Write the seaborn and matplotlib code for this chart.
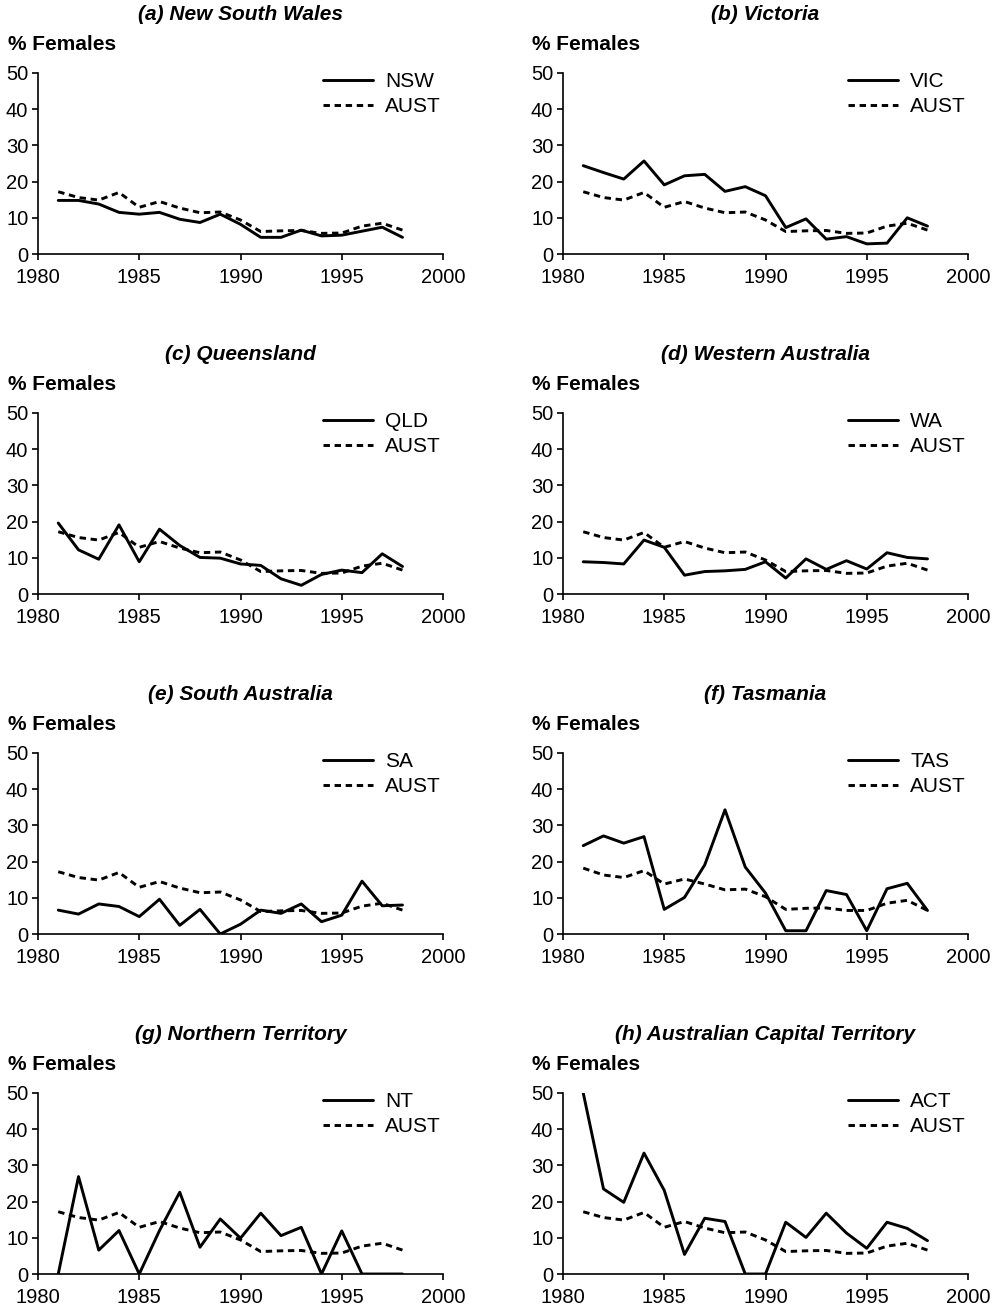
import numpy as np
import pandas as pd
import matplotlib
matplotlib.use("Agg")
import matplotlib.pyplot as plt
import seaborn as sns

years = list(range(1981, 1999))

aust = [17.2, 15.6, 14.9, 17.0, 12.9, 14.5, 12.7, 11.4, 11.6, 9.4, 6.2, 6.4, 6.5, 5.7, 5.8, 7.7, 8.5, 6.6]
aust_tas = [18.2, 16.3, 15.6, 17.5, 13.8, 15.2, 13.8, 12.2, 12.4, 10.3, 6.8, 7.1, 7.2, 6.5, 6.5, 8.5, 9.3, 6.5]

nsw = [14.8, 14.8, 13.8, 11.5, 11.0, 11.5, 9.6, 8.7, 11.0, 8.2, 4.6, 4.6, 6.6, 5.0, 5.2, 6.3, 7.4, 4.6]
vic = [24.4, 22.5, 20.7, 25.7, 19.1, 21.6, 22.0, 17.3, 18.6, 16.1, 7.3, 9.7, 4.1, 4.8, 2.8, 3.0, 10.0, 7.7]
qld = [19.6, 12.2, 9.6, 19.1, 8.9, 17.9, 13.4, 10.1, 9.9, 8.3, 7.9, 4.2, 2.4, 5.4, 6.6, 5.9, 11.1, 7.6]
wa = [8.9, 8.7, 8.3, 14.9, 12.9, 5.2, 6.2, 6.4, 6.8, 8.9, 4.4, 9.7, 6.8, 9.2, 6.9, 11.4, 10.1, 9.7]
sa = [6.6, 5.5, 8.3, 7.6, 4.8, 9.6, 2.4, 6.8, 0.0, 2.7, 6.6, 5.7, 8.3, 3.4, 5.2, 14.6, 7.8, 8.0]
tas = [24.4, 27.1, 25.1, 26.9, 6.8, 10.1, 19.1, 34.3, 18.5, 11.3, 0.9, 0.9, 12.0, 10.9, 0.9, 12.5, 14.0, 6.5]
nt = [0.0, 26.9, 6.6, 12.0, 0.0, 12.0, 22.6, 7.4, 15.2, 9.9, 16.8, 10.6, 12.9, 0.0, 11.9, 0.0, 0.0, 0.0]
act = [50.0, 23.5, 19.8, 33.4, 23.1, 5.4, 15.4, 14.5, 0.0, 0.0, 14.3, 10.1, 16.8, 11.3, 7.1, 14.3, 12.6, 9.2]

titles = ["(a) New South Wales", "(b) Victoria", "(c) Queensland", "(d) Western Australia",
          "(e) South Australia", "(f) Tasmania", "(g) Northern Territory",
          "(h) Australian Capital Territory"]
codes = ["NSW", "VIC", "QLD", "WA", "SA", "TAS", "NT", "ACT"]
series = [nsw, vic, qld, wa, sa, tas, nt, act]
aust_series = [aust, aust, aust, aust, aust, aust_tas, aust, aust]

x_ticks = [1980, 1985, 1990, 1995, 2000]
y_ticks = [0, 10, 20, 30, 40, 50]

sns.set_theme(style="ticks")
plt.rcParams['font.family'] = ['Liberation Sans', 'DejaVu Sans']
plt.rcParams['text.color'] = 'black'
plt.rcParams['axes.labelcolor'] = 'black'
plt.rcParams['xtick.color'] = 'black'
plt.rcParams['ytick.color'] = 'black'

W, H = 997, 1309
fig = plt.figure(figsize=(W / 100, H / 100), dpi=100)

col_left = [38, 563]
ax_w = 405
ax_h = 181
row_bottom = [254, 594, 934, 1274]

for i in range(8):
    r, c = divmod(i, 2)
    left = col_left[c]
    bottom = row_bottom[r]
    ax = fig.add_axes([left / W, (H - bottom) / H, ax_w / W, ax_h / H])
    df = pd.DataFrame({
        "Year": years * 2,
        "Value": series[i] + aust_series[i],
        "Series": [codes[i]] * len(years) + ["AUST"] * len(years),
    })
    sns.lineplot(data=df, x="Year", y="Value", style="Series",
                 dashes={codes[i]: "", "AUST": (2.2, 1.6)},
                 color="black", linewidth=2.1, ax=ax, legend=False)
    ax.set_xlim(1980, 2000)
    ax.set_ylim(0, 50)
    ax.set_xticks(x_ticks)
    ax.set_yticks(y_ticks)
    ax.tick_params(axis="both", labelsize=14.5, length=4, width=1.2, color="black",
                   labelcolor="black")
    ax.tick_params(axis="x", pad=6)
    ax.tick_params(axis="y", pad=3)
    for s in ["top", "right"]:
        ax.spines[s].set_visible(False)
    for s in ["left", "bottom"]:
        ax.spines[s].set_color("black")
        ax.spines[s].set_linewidth(1.2)
    ax.set_xlabel("")
    ax.set_ylabel("")
    ax.text(0.5, (254 - 15) / ax_h,
            titles[i], transform=ax.transAxes,
            ha="center", va="center", fontsize=15, fontweight="bold", fontstyle="italic")
    ax.text((8 - 38) / ax_w if c == 0 else (532 - 563) / ax_w, (254 - 45) / ax_h, "% Females",
            transform=ax.transAxes, ha="left", va="center", fontsize=15, fontweight="bold")
    handles = ax.get_lines()[:2]
    ax.legend(handles, [codes[i], "AUST"], loc="upper left",
              bbox_to_anchor=((323 - 38) / ax_w, (254 - 72) / ax_h),
              frameon=False, fontsize=15, handlelength=2.4, handletextpad=0.58,
              labelspacing=0.3, borderpad=0, borderaxespad=0)

fig.savefig("out.png", dpi=100)
